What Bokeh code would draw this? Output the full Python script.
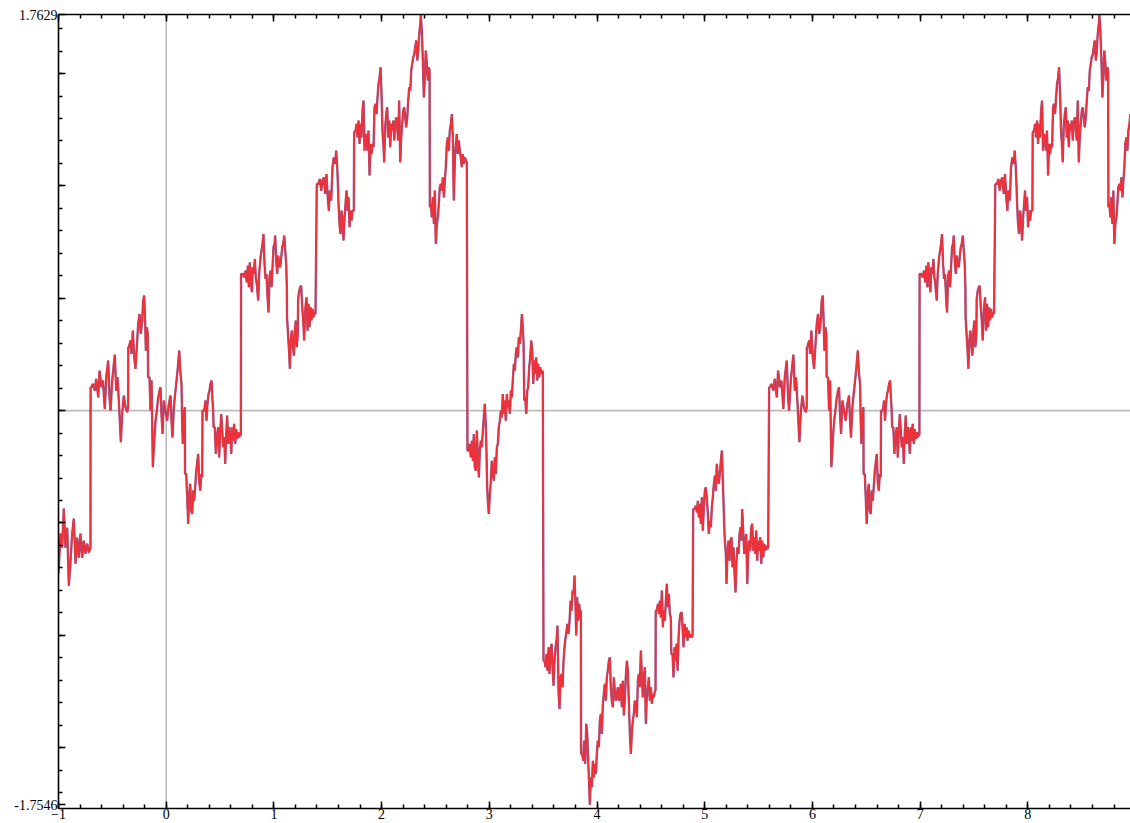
from bokeh.plotting import figure
from bokeh.models import FixedTicker, Span, LinearAxis, Range1d, CustomJSTickFormatter
from bokeh.embed import file_html
from bokeh.resources import INLINE

# ---- curve values (first period) ----
A_x = [-1.000, -0.981, -0.966, -0.951, -0.935, -0.919, -0.904, -0.888, -0.873, -0.858,
       -0.842, -0.827, -0.811, -0.796, -0.780, -0.765, -0.749, -0.733, -0.718, -0.703]
A_y = [-0.725, -0.547, -0.610, -0.436, -0.610, -0.521, -0.779, -0.668, -0.547, -0.481,
       -0.681, -0.565, -0.654, -0.547, -0.654, -0.579, -0.636, -0.592, -0.632, -0.610]

B_x = [-0.702, -0.694, -0.681, -0.663, -0.650, -0.631, -0.619, -0.601, -0.588, -0.570,
       -0.557, -0.539, -0.526, -0.517, -0.501, -0.486, -0.477, -0.464, -0.452, -0.440,
       -0.431, -0.421, -0.409, -0.394, -0.378, -0.362, -0.353]
B_y = [0.104, 0.104, 0.119, 0.089, 0.141, 0.059, 0.178, 0.104, 0.134, 0.007,
       0.148, 0.223, 0.059, 0.000, 0.134, 0.208, 0.249, 0.089, 0.148, 0.045,
       -0.045, -0.141, -0.015, 0.067, 0.015, -0.007, 0.015]

C_x = [-0.352, -0.347, -0.331, -0.322, -0.310, -0.297, -0.285, -0.273, -0.260, -0.248,
       -0.236, -0.223, -0.214, -0.204, -0.195, -0.189, -0.180, -0.171]
C_y = [0.282, 0.282, 0.312, 0.252, 0.356, 0.237, 0.186, 0.282, 0.386, 0.430,
       0.341, 0.401, 0.490, 0.512, 0.386, 0.267, 0.371, 0.341]

D_x = [-0.168, -0.155, -0.146, -0.136, -0.124, -0.111, -0.099, -0.087, -0.074, -0.062,
       -0.053, -0.044, -0.034, -0.022, -0.007, 0.009, 0.024, 0.040, 0.049, 0.058,
       0.071, 0.083, 0.096, 0.108, 0.121, 0.133, 0.142, 0.148, 0.154, 0.164, 0.173]
D_y = [0.148, 0.148, 0.000, 0.134, -0.252, -0.134, -0.045, 0.000, 0.059, 0.089,
       0.104, -0.015, -0.104, 0.045, 0.000, -0.045, 0.030, 0.067, -0.045, -0.119,
       0.015, 0.074, 0.134, 0.193, 0.267, 0.163, 0.119, -0.045, -0.148, -0.015, 0.015]

E_x = [0.175, 0.186, 0.195, 0.204, 0.214, 0.223, 0.232, 0.241, 0.251, 0.260,
       0.269, 0.279, 0.288, 0.297, 0.306, 0.316, 0.325, 0.334]
E_y = [-0.282, -0.282, -0.386, -0.504, -0.371, -0.326, -0.445, -0.460, -0.356, -0.401,
       -0.341, -0.267, -0.230, -0.193, -0.312, -0.356, -0.282, -0.297]

F_x = [0.337, 0.353, 0.365, 0.374, 0.383, 0.393, 0.402, 0.411, 0.421, 0.430, 0.436]
F_y = [0.000, 0.000, 0.045, -0.045, 0.030, 0.074, 0.089, 0.119, 0.134, 0.045, 0.000]

G_x = [0.440, 0.451, 0.461, 0.470, 0.483, 0.492, 0.501, 0.511, 0.520, 0.529,
       0.539, 0.548, 0.557, 0.566, 0.576, 0.585, 0.594, 0.604, 0.613, 0.622,
       0.631, 0.641, 0.650, 0.659, 0.669, 0.678, 0.687, 0.693]
G_y = [-0.074, -0.074, -0.193, -0.119, -0.074, -0.208, -0.104, -0.015, -0.089, -0.163,
       -0.119, -0.237, -0.104, -0.022, -0.148, -0.074, -0.104, -0.193, -0.074, -0.134,
       -0.059, -0.148, -0.082, -0.126, -0.096, -0.119, -0.104, -0.111]

H_x = [0.695, 0.711, 0.724, 0.736, 0.748, 0.758, 0.767, 0.776, 0.786, 0.795,
       0.804, 0.813, 0.823, 0.832, 0.841, 0.854, 0.863, 0.876, 0.885, 0.894,
       0.903, 0.913, 0.922, 0.931, 0.941, 0.950, 0.959, 0.968, 0.978, 0.987,
       0.996, 1.006, 1.012, 1.021, 1.031, 1.040, 1.049, 1.058, 1.068, 1.077,
       1.086, 1.096, 1.105, 1.114, 1.120, 1.122, 1.133, 1.142, 1.148, 1.157,
       1.166, 1.176, 1.185, 1.194, 1.203, 1.213, 1.222, 1.225, 1.235, 1.244,
       1.253, 1.263, 1.272, 1.281, 1.287, 1.293, 1.303, 1.312, 1.321, 1.331,
       1.340, 1.349, 1.358, 1.368, 1.377, 1.386]
H_y = [0.608, 0.608, 0.593, 0.623, 0.571, 0.645, 0.549, 0.660, 0.579, 0.527,
       0.638, 0.608, 0.675, 0.593, 0.564, 0.490, 0.608, 0.682, 0.712, 0.742,
       0.786, 0.653, 0.586, 0.608, 0.504, 0.437, 0.593, 0.623, 0.549, 0.638,
       0.727, 0.742, 0.779, 0.668, 0.608, 0.690, 0.653, 0.638, 0.682, 0.727,
       0.742, 0.779, 0.712, 0.653, 0.549, 0.415, 0.326, 0.252, 0.186, 0.312,
       0.356, 0.297, 0.245, 0.356, 0.401, 0.282, 0.341, 0.497, 0.534, 0.549,
       0.556, 0.460, 0.401, 0.312, 0.401, 0.460, 0.504, 0.356, 0.475, 0.371,
       0.460, 0.401, 0.453, 0.415, 0.437, 0.430]

I_x = [1.398, 1.414, 1.426, 1.439, 1.451, 1.463, 1.476, 1.488, 1.500, 1.510,
       1.519, 1.532, 1.544, 1.556, 1.569, 1.578, 1.588, 1.594, 1.600, 1.609,
       1.618, 1.628, 1.637, 1.646, 1.656, 1.665, 1.674, 1.683, 1.693, 1.702,
       1.711, 1.721, 1.730, 1.742, 1.745, 1.758, 1.767, 1.776, 1.786, 1.795,
       1.804, 1.813, 1.823, 1.832, 1.841, 1.851, 1.860, 1.869, 1.878, 1.888,
       1.897, 1.906, 1.916, 1.925, 1.934, 1.943, 1.953, 1.962, 1.971, 1.981,
       1.990, 1.999, 2.008, 2.018, 2.024, 2.033, 2.043, 2.052, 2.061, 2.071,
       2.080, 2.089, 2.098, 2.108, 2.117, 2.126, 2.136, 2.145, 2.154, 2.163,
       2.173, 2.182, 2.191, 2.201, 2.210, 2.219, 2.228, 2.238, 2.247, 2.256,
       2.266, 2.275, 2.284, 2.293, 2.303, 2.312, 2.321, 2.331, 2.340, 2.349,
       2.359, 2.364, 2.373, 2.383, 2.392, 2.401, 2.410, 2.420, 2.429, 2.438,
       2.445, 2.448, 2.457, 2.466, 2.475, 2.485, 2.494, 2.503, 2.513, 2.522,
       2.531, 2.540, 2.550, 2.559, 2.568, 2.578, 2.587, 2.596, 2.605, 2.615,
       2.624, 2.633, 2.643, 2.652, 2.661, 2.670, 2.680, 2.689, 2.698, 2.708,
       2.717, 2.726, 2.735, 2.745, 2.754, 2.763, 2.773, 2.782, 2.791]
I_y = [1.009, 1.009, 1.031, 0.979, 1.024, 1.038, 0.964, 1.053, 0.949, 0.890,
       0.979, 0.935, 1.083, 1.127, 1.098, 1.157, 1.083, 1.009, 0.920, 0.831,
       0.786, 0.890, 0.846, 0.757, 0.860, 0.920, 0.979, 0.890, 0.949, 0.816,
       0.890, 0.846, 0.890, 0.890, 1.239, 1.246, 1.276, 1.216, 1.291, 1.187,
       1.276, 1.216, 1.335, 1.380, 1.157, 1.231, 1.216, 1.157, 1.246, 1.046,
       1.187, 1.142, 1.187, 1.172, 1.350, 1.365, 1.320, 1.394, 1.454, 1.483,
       1.528, 1.409, 1.246, 1.172, 1.105, 1.261, 1.320, 1.350, 1.216, 1.291,
       1.172, 1.276, 1.246, 1.291, 1.202, 1.276, 1.305, 1.261, 1.202, 1.380,
       1.105, 1.216, 1.276, 1.335, 1.350, 1.305, 1.261, 1.305, 1.380, 1.439,
       1.424, 1.513, 1.543, 1.572, 1.587, 1.617, 1.647, 1.558, 1.602, 1.676,
       1.721, 1.763, 1.691, 1.558, 1.394, 1.483, 1.602, 1.543, 1.469, 1.528,
       1.513, 0.905, 0.920, 0.860, 0.949, 0.831, 0.979, 0.742, 0.831, 0.860,
       0.920, 0.994, 1.009, 0.979, 1.038, 0.949, 1.024, 1.083, 1.187, 1.216,
       1.157, 1.246, 1.276, 1.320, 1.216, 0.935, 1.113, 1.187, 1.231, 1.142,
       1.202, 1.157, 1.127, 1.083, 1.142, 1.098, 1.127, 1.113, 1.105]

J_x = [2.797, 2.810, 2.819, 2.828, 2.838, 2.847, 2.856, 2.865, 2.875, 2.884,
       2.893, 2.903, 2.912, 2.921, 2.930, 2.940, 2.949, 2.958, 2.968, 2.974,
       2.980, 2.986, 2.995, 3.005, 3.014, 3.023, 3.033, 3.042, 3.051, 3.060,
       3.070, 3.079, 3.088, 3.098, 3.107, 3.116, 3.125, 3.135, 3.144, 3.153,
       3.163, 3.172, 3.181, 3.190, 3.200, 3.209, 3.218, 3.228, 3.237, 3.246,
       3.255, 3.265, 3.274, 3.283, 3.293, 3.302, 3.311, 3.318, 3.324, 3.333,
       3.343, 3.352, 3.361, 3.370, 3.380, 3.389, 3.398, 3.408, 3.417, 3.426,
       3.435, 3.445, 3.454, 3.463, 3.473, 3.482, 3.491, 3.497]
J_y = [-0.178, -0.178, -0.148, -0.208, -0.134, -0.223, -0.104, -0.252, -0.267, -0.089,
       -0.193, -0.297, -0.178, -0.134, -0.163, -0.089, -0.030, 0.030, -0.074, -0.193,
       -0.341, -0.401, -0.460, -0.371, -0.312, -0.223, -0.282, -0.312, -0.208, -0.282,
       -0.163, -0.148, -0.074, -0.045, 0.000, -0.030, 0.074, -0.015, 0.045, -0.045,
       0.074, 0.015, 0.045, -0.015, 0.089, 0.059, 0.134, 0.208, 0.178, 0.252,
       0.282, 0.237, 0.326, 0.297, 0.356, 0.430, 0.371, 0.297, 0.045, 0.059,
       -0.015, 0.089, 0.104, 0.193, 0.237, 0.312, 0.267, 0.119, 0.223, 0.163,
       0.237, 0.134, 0.208, 0.148, 0.193, 0.163, 0.178, 0.171]

K_x = [3.503, 3.513, 3.522, 3.531, 3.540, 3.550, 3.559, 3.568, 3.578, 3.587,
       3.596, 3.605, 3.615, 3.624, 3.633, 3.643, 3.652, 3.661, 3.670, 3.680,
       3.689, 3.698, 3.708, 3.717, 3.726, 3.735, 3.745, 3.754, 3.763, 3.773,
       3.782, 3.791, 3.800, 3.807, 3.816, 3.825, 3.835, 3.844, 3.850, 3.852,
       3.863, 3.872, 3.881, 3.890, 3.900, 3.909, 3.918, 3.928, 3.933, 3.942,
       3.952, 3.961, 3.970, 3.980, 3.989, 3.998, 4.007, 4.017, 4.026, 4.035,
       4.045, 4.054, 4.063, 4.072, 4.082, 4.091, 4.100, 4.110, 4.119, 4.128,
       4.137, 4.147, 4.156, 4.165, 4.175, 4.184, 4.193, 4.202, 4.212, 4.221,
       4.230, 4.240, 4.249, 4.258, 4.267, 4.277, 4.286, 4.295, 4.305, 4.314,
       4.323, 4.332, 4.342, 4.351, 4.360, 4.370, 4.379, 4.388, 4.397, 4.407,
       4.416, 4.425, 4.435, 4.444, 4.453, 4.462, 4.472, 4.481, 4.490, 4.500,
       4.509, 4.518, 4.527, 4.537, 4.543, 4.545, 4.555, 4.565, 4.574, 4.583,
       4.592, 4.602, 4.611, 4.620, 4.630, 4.639, 4.648, 4.657, 4.667, 4.676,
       4.685, 4.690, 4.701, 4.710, 4.720, 4.729, 4.738, 4.748, 4.757, 4.766,
       4.775, 4.785, 4.794, 4.803, 4.813, 4.822, 4.831, 4.840, 4.850, 4.859,
       4.868, 4.878, 4.887]
K_y = [-1.113, -1.113, -1.142, -1.083, -1.157, -1.053, -1.172, -1.068, -1.038, -1.142,
       -1.224, -1.113, -1.053, -1.024, -0.957, -1.261, -1.328, -1.187, -1.172, -1.231,
       -1.113, -1.053, -1.009, -0.979, -0.949, -0.994, -0.935, -0.846, -0.890, -0.801,
       -0.816, -0.734, -0.860, -1.001, -0.831, -0.935, -0.860, -0.920, -0.890, -1.528,
       -1.528, -1.558, -1.469, -1.572, -1.394, -1.439, -1.558, -1.676, -1.755, -1.632,
       -1.676, -1.558, -1.632, -1.572, -1.617, -1.528, -1.469, -1.498, -1.380, -1.350,
       -1.439, -1.305, -1.261, -1.216, -1.291, -1.187, -1.157, -1.113, -1.098, -1.231,
       -1.291, -1.320, -1.187, -1.246, -1.291, -1.261, -1.231, -1.291, -1.261, -1.216,
       -1.320, -1.202, -1.357, -1.291, -1.187, -1.113, -1.157, -1.291, -1.439, -1.528,
       -1.439, -1.380, -1.350, -1.291, -1.305, -1.365, -1.202, -1.172, -1.231, -1.068,
       -1.172, -1.276, -1.187, -1.142, -1.394, -1.276, -1.231, -1.187, -1.291, -1.231,
       -1.305, -1.261, -1.276, -1.246, -1.246, -0.890, -0.890, -0.860, -0.905, -0.846,
       -0.920, -0.801, -0.964, -0.890, -0.935, -0.846, -0.771, -0.875, -0.816, -0.905,
       -0.920, -1.083, -1.083, -1.187, -1.053, -1.113, -1.038, -1.157, -1.009, -0.935,
       -0.905, -0.897, -0.964, -1.053, -0.949, -1.009, -0.964, -1.024, -0.979, -1.009,
       -0.994, -1.009, -1.001]

L_x = [4.893, 4.908, 4.917, 4.927, 4.936, 4.945, 4.954, 4.964, 4.973, 4.982,
       4.992, 5.001, 5.010, 5.019, 5.029, 5.038, 5.047, 5.057, 5.066, 5.075,
       5.085, 5.094, 5.103, 5.112, 5.122, 5.131, 5.140, 5.150, 5.159, 5.168,
       5.175, 5.181, 5.187, 5.196, 5.202, 5.212, 5.221, 5.230, 5.239, 5.249,
       5.258, 5.267, 5.277, 5.286, 5.295, 5.304, 5.314, 5.323, 5.332, 5.342,
       5.348, 5.357, 5.367, 5.376, 5.385, 5.395, 5.404, 5.413, 5.422, 5.432,
       5.441, 5.450, 5.460, 5.469, 5.478, 5.487, 5.497, 5.506, 5.515, 5.525,
       5.534, 5.543, 5.552, 5.562, 5.571, 5.580, 5.589]
L_y = [-0.438, -0.438, -0.423, -0.453, -0.401, -0.475, -0.415, -0.504, -0.386, -0.534,
       -0.430, -0.356, -0.341, -0.386, -0.460, -0.549, -0.490, -0.519, -0.430, -0.386,
       -0.326, -0.289, -0.356, -0.237, -0.297, -0.326, -0.282, -0.223, -0.178, -0.312,
       -0.415, -0.519, -0.579, -0.638, -0.771, -0.623, -0.579, -0.668, -0.579, -0.564,
       -0.697, -0.608, -0.727, -0.809, -0.668, -0.608, -0.638, -0.549, -0.519, -0.579,
       -0.438, -0.534, -0.638, -0.593, -0.549, -0.771, -0.623, -0.579, -0.623, -0.519,
       -0.504, -0.623, -0.564, -0.638, -0.534, -0.668, -0.579, -0.623, -0.564, -0.682,
       -0.579, -0.653, -0.593, -0.623, -0.601, -0.616, -0.608]

B2_x = [5.598, 5.606, 5.619, 5.637, 5.650, 5.669, 5.681, 5.699, 5.712, 5.730,
        5.743, 5.761, 5.774, 5.783, 5.799, 5.814, 5.823, 5.836, 5.848, 5.860,
        5.869, 5.879, 5.891, 5.906, 5.922, 5.938, 5.947]
C2_x = [5.948, 5.953, 5.969, 5.978, 5.990, 6.003, 6.015, 6.027, 6.040, 6.052,
        6.064, 6.077, 6.086, 6.096, 6.105, 6.111, 6.120, 6.129]
D2_x = [6.132, 6.145, 6.154, 6.164, 6.176, 6.189, 6.201, 6.213, 6.226, 6.238,
        6.247, 6.256, 6.266, 6.278, 6.293, 6.309, 6.324, 6.340, 6.349, 6.358,
        6.371, 6.383, 6.396, 6.408, 6.421, 6.433, 6.442, 6.448, 6.454, 6.464, 6.473]
E2_x = [6.475, 6.486, 6.495, 6.504, 6.514, 6.523, 6.532, 6.541, 6.551, 6.560,
        6.569, 6.579, 6.588, 6.597, 6.606, 6.616, 6.625, 6.634]
F2_x = [6.637, 6.653, 6.665, 6.674, 6.683, 6.693, 6.702, 6.711, 6.721, 6.730, 6.736]
G2_x = [6.740, 6.751, 6.761, 6.770, 6.783, 6.792, 6.801, 6.811, 6.820, 6.829,
        6.839, 6.848, 6.857, 6.866, 6.876, 6.885, 6.894, 6.904, 6.913, 6.922,
        6.931, 6.941, 6.950, 6.959, 6.969, 6.978, 6.987, 6.993]
H2_x = [6.995, 7.011, 7.024, 7.036, 7.048, 7.058, 7.067, 7.076, 7.086, 7.095,
        7.104, 7.113, 7.123, 7.132, 7.141, 7.154, 7.163, 7.176, 7.185, 7.194,
        7.203, 7.213, 7.222, 7.231, 7.241, 7.250, 7.259, 7.268, 7.278, 7.287,
        7.296, 7.306, 7.312, 7.321, 7.331, 7.340, 7.349, 7.358, 7.368, 7.377,
        7.386, 7.396, 7.405, 7.414, 7.420, 7.422, 7.433, 7.442, 7.448, 7.457,
        7.466, 7.476, 7.485, 7.494, 7.503, 7.513, 7.522, 7.525, 7.535, 7.544,
        7.553, 7.563, 7.572, 7.581, 7.587, 7.593, 7.603, 7.612, 7.621, 7.631,
        7.640, 7.649, 7.658, 7.668, 7.677, 7.686]
I2_x = [7.698, 7.714, 7.726, 7.739, 7.751, 7.763, 7.776, 7.788, 7.800, 7.810,
        7.819, 7.832, 7.844, 7.856, 7.869, 7.878, 7.888, 7.894, 7.900, 7.909,
        7.918, 7.928, 7.937, 7.946, 7.956, 7.965, 7.974, 7.983, 7.993, 8.002,
        8.011, 8.021, 8.030, 8.042, 8.045, 8.058, 8.067, 8.076, 8.086, 8.095,
        8.104, 8.113, 8.123, 8.132, 8.141, 8.151, 8.160, 8.169, 8.178, 8.188,
        8.197, 8.206, 8.216, 8.225, 8.234, 8.243, 8.253, 8.262, 8.271, 8.281,
        8.290, 8.299, 8.308, 8.318, 8.324, 8.333, 8.343, 8.352, 8.361, 8.371,
        8.380, 8.389, 8.398, 8.408, 8.417, 8.426, 8.436, 8.445, 8.454, 8.463,
        8.473, 8.482, 8.491, 8.501, 8.510, 8.519, 8.528, 8.538, 8.547, 8.556,
        8.566, 8.575, 8.584, 8.593, 8.603, 8.612, 8.621, 8.631, 8.640, 8.649,
        8.659, 8.664, 8.673, 8.683, 8.692, 8.701, 8.710, 8.720, 8.729, 8.738,
        8.745, 8.748, 8.757, 8.766, 8.775, 8.785, 8.794, 8.803, 8.813, 8.822,
        8.831, 8.840, 8.850, 8.859, 8.868, 8.878, 8.887, 8.896, 8.905, 8.915,
        8.924, 8.933, 8.943, 8.952, 8.961]

curve_x = (A_x + B_x + C_x + D_x + E_x + F_x + G_x + H_x + I_x + J_x + K_x + L_x
           + B2_x + C2_x + D2_x + E2_x + F2_x + G2_x + H2_x + I2_x)
curve_y = (A_y + B_y + C_y + D_y + E_y + F_y + G_y + H_y + I_y + J_y + K_y + L_y
           + B_y + C_y + D_y + E_y + F_y + G_y + H_y + I_y[:len(I2_x)])
assert len(curve_x) == len(curve_y)

# ---- ticks and labels ----
x_major = [-1, 0, 1, 2, 3, 4, 5, 6, 7, 8]
x_minor = [round(-1 + 0.2 * i, 1) for i in range(50)]
y_major = [-1.5, -1.0, -0.5, 0.0, 0.5, 1.0, 1.5]
y_minor = [round(-1.7 + 0.1 * i, 1) for i in range(35)]
y_top, y_bottom = 1.7629, -1.7546
y_top_label, y_bottom_label = "1.7629", "-1.7546"

FONT = "Liberation Serif"

p = figure(width=1130, height=823,
           x_range=Range1d(-1, 8.953), y_range=Range1d(-1.7707, 1.7629),
           output_backend="svg", toolbar_location=None,
           x_axis_location=None, y_axis_location=None,
           min_border_left=58, min_border_right=0, min_border_top=14, min_border_bottom=15)
p.outline_line_color = None
p.xgrid.visible = False
p.ygrid.visible = False
p.background_fill_color = "white"
p.border_fill_color = "white"

blank = CustomJSTickFormatter(code="return ''")

def style_axis(ax):
    ax.axis_line_width = 1.6
    ax.axis_line_color = "black"
    ax.major_tick_in = 7
    ax.major_tick_out = 0
    ax.minor_tick_in = 4
    ax.minor_tick_out = 0
    ax.major_tick_line_width = 1.5
    ax.minor_tick_line_width = 1.5
    ax.major_tick_line_color = "black"
    ax.minor_tick_line_color = "black"

bottom = LinearAxis(ticker=FixedTicker(ticks=x_major, minor_ticks=x_minor))
style_axis(bottom)
bottom.major_label_text_font = FONT
bottom.major_label_text_font_size = "14px"
bottom.major_label_text_color = "black"
bottom.major_label_standoff = 0
p.add_layout(bottom, "below")

top = LinearAxis(ticker=FixedTicker(ticks=x_major, minor_ticks=x_minor), formatter=blank)
style_axis(top)
top.major_label_text_font_size = "1px"
top.major_label_standoff = 0
p.add_layout(top, "above")

left_overrides = {v: "" for v in y_major}
left_overrides[y_top] = y_top_label
left_overrides[y_bottom] = y_bottom_label
left = LinearAxis(ticker=FixedTicker(ticks=y_major + [y_bottom, y_top], minor_ticks=y_minor),
                  major_label_overrides=left_overrides)
style_axis(left)
left.major_label_text_font = FONT
left.major_label_text_font_size = "14px"
left.major_label_text_color = "black"
left.major_label_standoff = 1
p.add_layout(left, "left")

# zero lines
p.add_layout(Span(location=0, dimension="height", line_color="#bcbcbc", line_width=1.6, level="underlay"))
p.add_layout(Span(location=0, dimension="width", line_color="#bcbcbc", line_width=1.6, level="underlay"))

# curve
p.line(curve_x, curve_y, line_color="#9b5a8c", line_width=2.4)
p.line(curve_x, curve_y, line_color="#ee3038", line_width=1.5)

open("out.html", "w").write(file_html(p, INLINE))
